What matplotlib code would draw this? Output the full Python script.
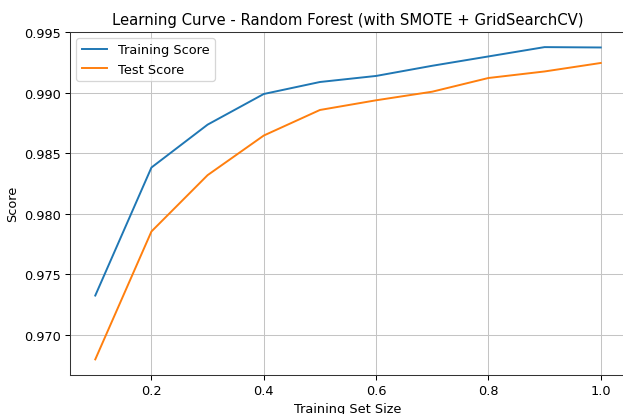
import matplotlib
matplotlib.use("Agg")
import matplotlib.pyplot as plt

train_sizes = [0.1, 0.2, 0.3, 0.4, 0.5, 0.6, 0.7, 0.8, 0.9, 1.0]
train_scores = [0.97325, 0.98382, 0.98736, 0.98989, 0.99088, 0.99138,
                0.99222, 0.99299, 0.99376, 0.99373]
test_scores = [0.96798, 0.97854, 0.98319, 0.98646, 0.98857, 0.98937,
               0.99008, 0.99121, 0.99175, 0.99245]

fig = plt.figure(figsize=(623 / 93, 415 / 93), dpi=93)
ax = fig.add_axes([70 / 623, 1 - 376 / 415, 556 / 623, 343.5 / 415])

ax.plot(train_sizes, train_scores, label="Training Score")
ax.plot(train_sizes, test_scores, label="Test Score")
ax.set_title("Learning Curve - Random Forest (with SMOTE + GridSearchCV)",
             fontsize=11.5)
ax.set_xlabel("Training Set Size")
ax.set_ylabel("Score")
ax.legend(loc="upper left")
ax.grid(True, color="#c4c4c4")
for s in ax.spines.values():
    s.set_color("#333333")

fig.savefig("out.png", dpi=93)
